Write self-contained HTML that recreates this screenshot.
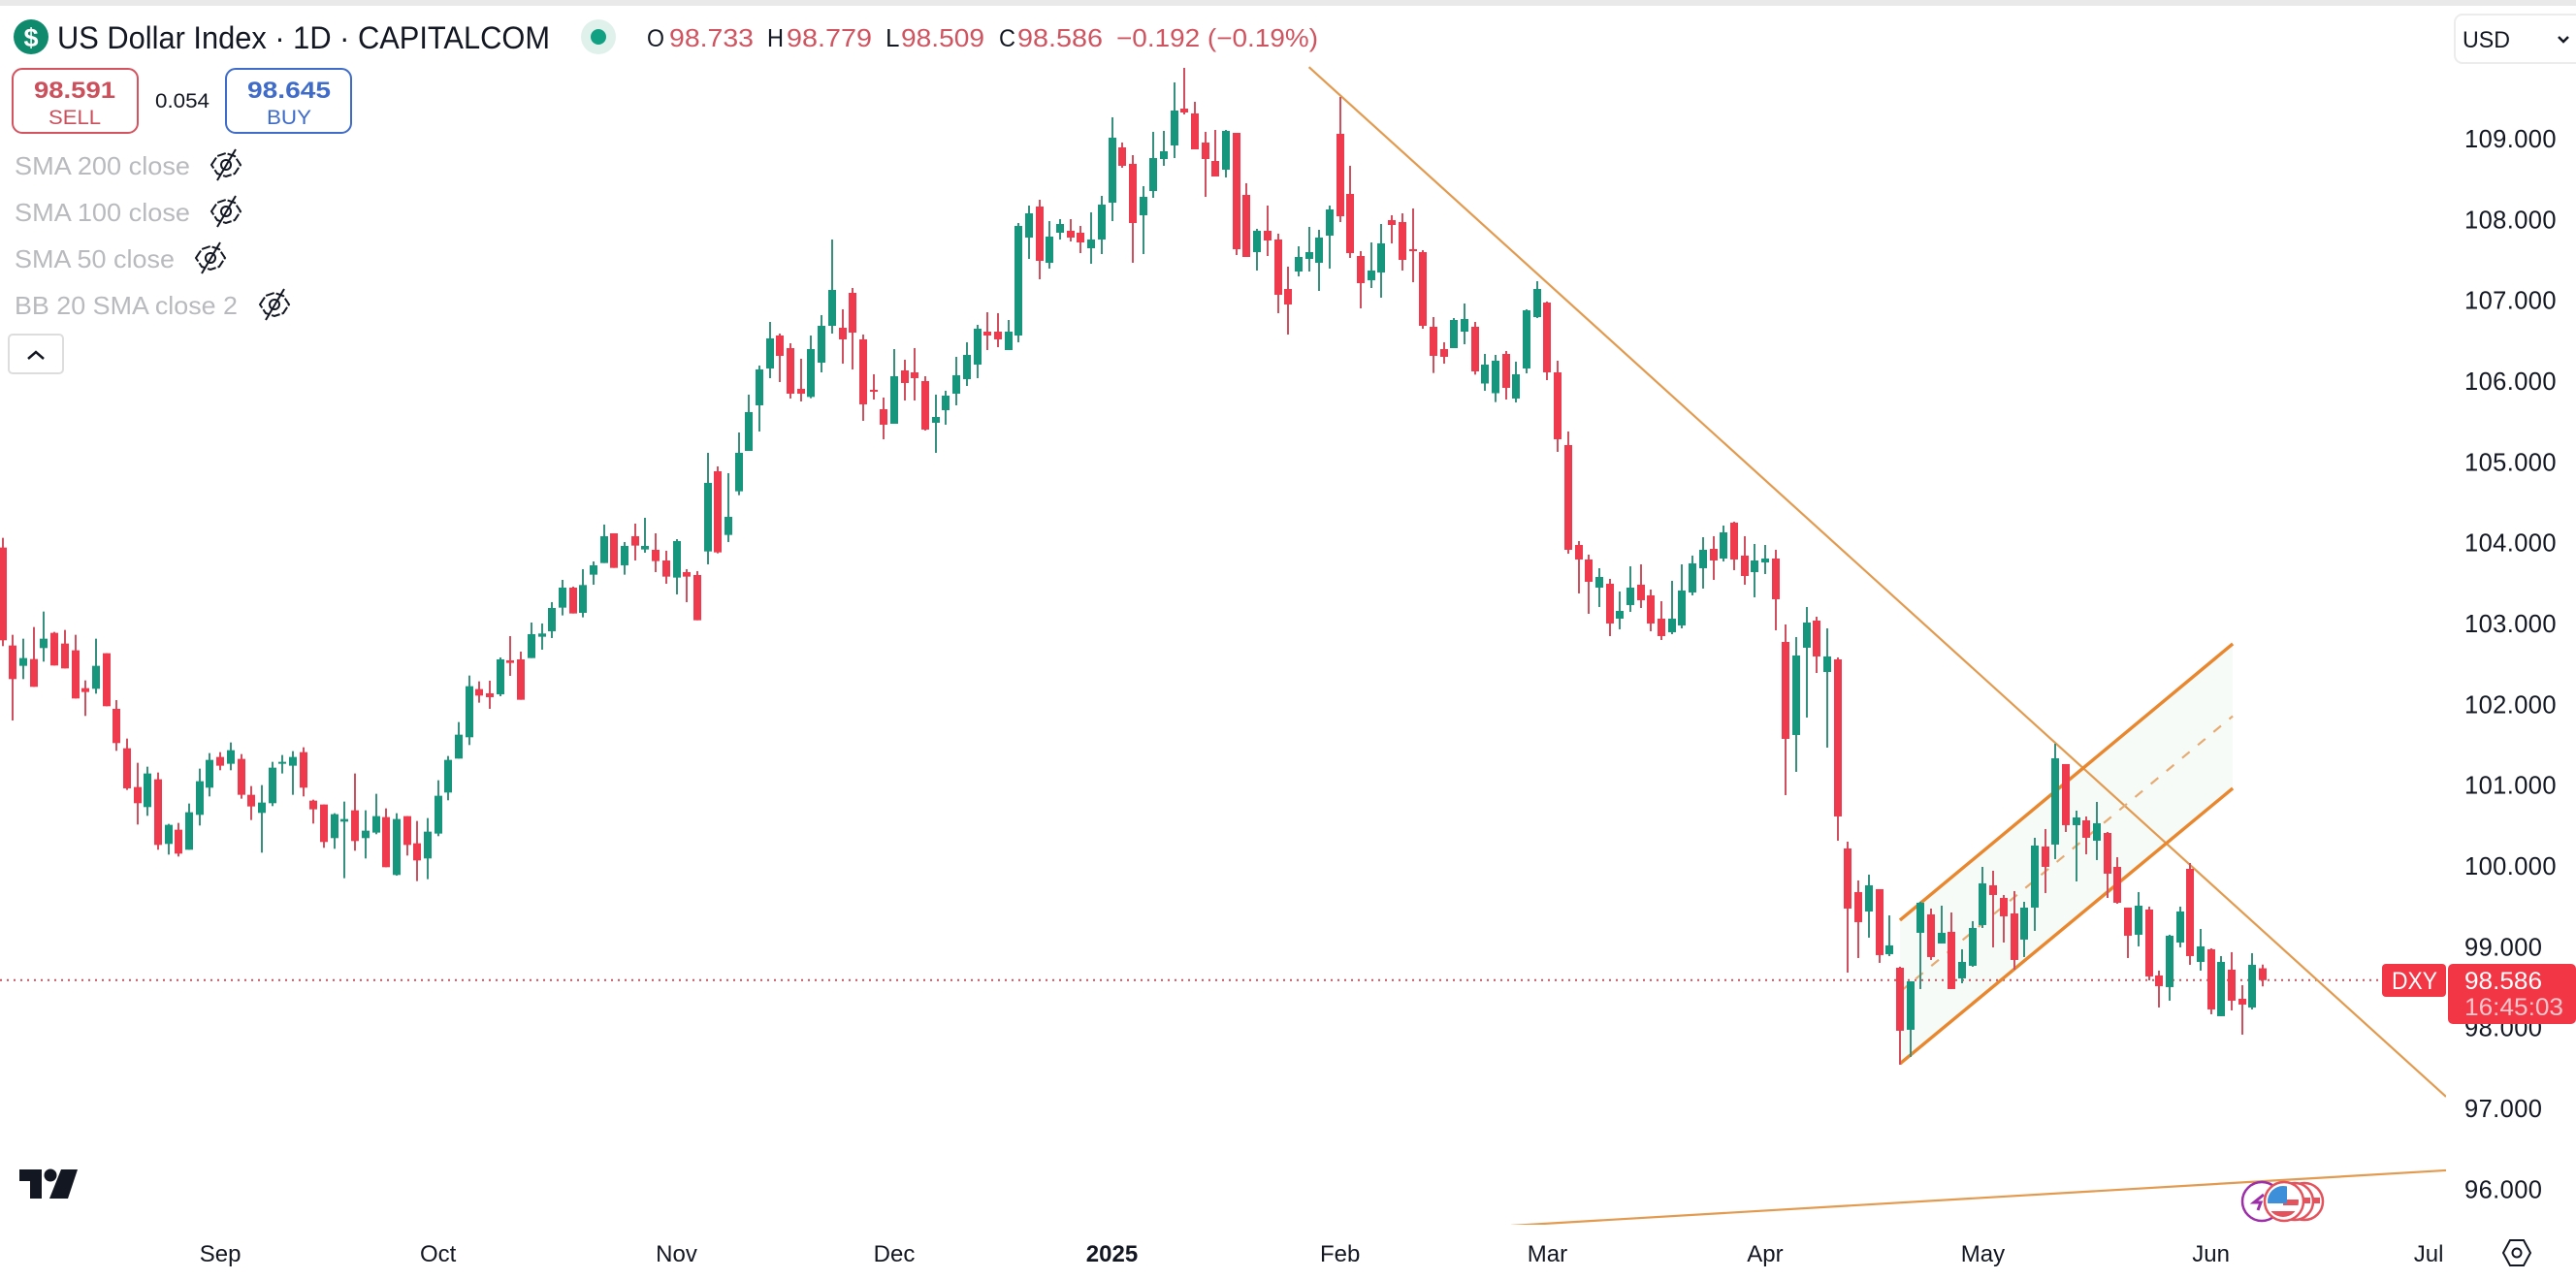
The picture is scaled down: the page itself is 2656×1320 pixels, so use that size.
<!DOCTYPE html>
<html lang="en">
<head>
<meta charset="utf-8">
<title>US Dollar Index 1D chart</title>
<style>
html,body{margin:0;padding:0;background:#fff;width:2656px;height:1320px;overflow:hidden}
svg{display:block;font-family:"Liberation Sans",sans-serif}
</style>
</head>
<body>
<svg id="chart" xmlns="http://www.w3.org/2000/svg" width="2656" height="1320" viewBox="0 0 2656 1320">
  <defs>
    <clipPath id="pane-clip"><rect x="0" y="0" width="2522" height="1263"/></clipPath>
    <clipPath id="flag-clip"><circle cx="2354" cy="1239" r="16"/></clipPath>
    <g id="eye-off">
      <path d="M-15 0 L-9 -9 L0 -12 L9 -9 L15 0 L9 9 L0 12 L-9 9 Z" fill="none" stroke="#131722" stroke-width="2" stroke-dasharray="9 2"/>
      <circle cx="0" cy="0" r="5" fill="none" stroke="#131722" stroke-width="2"/>
      <path d="M-9 16 L10 -16" stroke="#131722" stroke-width="2"/>
    </g>
  </defs>
  <rect x="0" y="0" width="2656" height="1320" fill="#ffffff"/>
  <rect x="0" y="0" width="2656" height="6" fill="#e9e9e9"/>

  <g id="drawings" clip-path="url(#pane-clip)"></g>
  <g id="candles" clip-path="url(#pane-clip)"></g>
  <g id="yaxis"></g>
  <g id="xaxis"></g>

  <g>
    <circle cx="32" cy="38" r="18" fill="#0f8a6d"/>
    <text x="32" y="48" font-size="27" font-weight="700" fill="#fff" text-anchor="middle">$</text>
    <text x="59" y="50" font-size="32" fill="#131722" textLength="508" lengthAdjust="spacingAndGlyphs">US Dollar Index · 1D · CAPITALCOM</text>
    <circle cx="617" cy="38" r="18" fill="#e0f1ec"/>
    <circle cx="617" cy="38" r="8" fill="#12a083"/>
    <text x="667" y="48" font-size="25" fill="#131722" textLength="18" lengthAdjust="spacingAndGlyphs">O</text>
    <text x="690" y="48" font-size="26" fill="#cf5460" textLength="87" lengthAdjust="spacingAndGlyphs">98.733</text>
    <text x="791" y="48" font-size="26" fill="#131722" textLength="17" lengthAdjust="spacingAndGlyphs">H</text>
    <text x="811" y="48" font-size="26" fill="#cf5460" textLength="88" lengthAdjust="spacingAndGlyphs">98.779</text>
    <text x="913" y="48" font-size="26" fill="#131722">L</text>
    <text x="929" y="48" font-size="26" fill="#cf5460" textLength="86" lengthAdjust="spacingAndGlyphs">98.509</text>
    <text x="1030" y="48" font-size="25" fill="#131722" textLength="17" lengthAdjust="spacingAndGlyphs">C</text>
    <text x="1049" y="48" font-size="26" fill="#cf5460" textLength="88" lengthAdjust="spacingAndGlyphs">98.586</text>
    <text x="1151" y="48" font-size="26" fill="#cf5460" textLength="208" lengthAdjust="spacingAndGlyphs">−0.192 (−0.19%)</text>
  </g>

  <g>
    <rect x="13" y="71" width="129" height="66" rx="10" fill="#fff" stroke="#d4535f" stroke-width="2"/>
    <text x="35" y="101" font-size="24" font-weight="700" fill="#cc4f5c" textLength="84" lengthAdjust="spacingAndGlyphs">98.591</text>
    <text x="50" y="128" font-size="21" fill="#cc4f5c" textLength="54" lengthAdjust="spacingAndGlyphs">SELL</text>
  </g>
  <text x="160" y="111" font-size="21" fill="#131722" textLength="56" lengthAdjust="spacingAndGlyphs">0.054</text>
  <g>
    <rect x="233" y="71" width="129" height="66" rx="10" fill="#fff" stroke="#3f6bc9" stroke-width="2"/>
    <text x="255" y="101" font-size="24" font-weight="700" fill="#3f6bc9" textLength="86" lengthAdjust="spacingAndGlyphs">98.645</text>
    <text x="275" y="128" font-size="21" fill="#3f6bc9" textLength="46" lengthAdjust="spacingAndGlyphs">BUY</text>
  </g>

  <text x="15" y="180" font-size="26" fill="#b9babd" textLength="181" lengthAdjust="spacingAndGlyphs">SMA 200 close</text>
  <use href="#eye-off" x="233" y="170"/>
  <text x="15" y="228" font-size="26" fill="#b9babd" textLength="181" lengthAdjust="spacingAndGlyphs">SMA 100 close</text>
  <use href="#eye-off" x="233" y="218"/>
  <text x="15" y="276" font-size="26" fill="#b9babd" textLength="165" lengthAdjust="spacingAndGlyphs">SMA 50 close</text>
  <use href="#eye-off" x="217" y="266"/>
  <text x="15" y="324" font-size="26" fill="#b9babd" textLength="230" lengthAdjust="spacingAndGlyphs">BB 20 SMA close 2</text>
  <use href="#eye-off" x="283" y="314"/>

  <g>
    <rect x="9" y="345" width="56" height="40" rx="4" fill="#fff" stroke="#dddddd" stroke-width="2"/>
    <path d="M29 370 L37 363 L45 370" fill="none" stroke="#131722" stroke-width="2.5"/>
  </g>

  <g>
    <rect x="2531" y="15" width="135" height="50" rx="8" fill="#fff" stroke="#ececec" stroke-width="2"/>
    <text x="2539" y="49" font-size="24" fill="#131722" textLength="49" lengthAdjust="spacingAndGlyphs">USD</text>
    <path d="M2638 38 L2643 43 L2648 38" fill="none" stroke="#131722" stroke-width="2.5"/>
  </g>

  <g fill="#131722">
    <polygon points="20,1206 43,1206 43,1236 31,1236 31,1218 20,1218"/>
    <circle cx="52" cy="1212" r="6.5"/>
    <polygon points="63,1206 80,1206 70,1236 51,1236"/>
  </g>

  <g>
    <rect x="2456" y="994" width="66" height="34" rx="4" fill="#f23645"/>
    <text x="2466" y="1020" font-size="25" fill="#fff" textLength="47" lengthAdjust="spacingAndGlyphs">DXY</text>
    <rect x="2524" y="994" width="132" height="62" rx="5" fill="#f23645"/>
    <text x="2541" y="1020" font-size="25" fill="#fff" textLength="80" lengthAdjust="spacingAndGlyphs">98.586</text>
    <text x="2541" y="1047" font-size="25" fill="#fbc6cb" textLength="102" lengthAdjust="spacingAndGlyphs">16:45:03</text>
  </g>

  <g>
    <circle cx="2376" cy="1239" r="19" fill="#fff" stroke="#e4525c" stroke-width="2.5"/>
    <rect x="2378" y="1235" width="14" height="6" fill="#e4525c"/>
    <circle cx="2366" cy="1239" r="19" fill="#fff" stroke="#e4525c" stroke-width="2.5"/>
    <rect x="2368" y="1235" width="14" height="6" fill="#e4525c"/>
    <circle cx="2332" cy="1239" r="20" fill="#fff" stroke="#9c2fa8" stroke-width="2.5"/>
    <path d="M2334 1232 L2324 1240 L2331 1240 L2328 1248" fill="none" stroke="#9c2fa8" stroke-width="3"/>
    <circle cx="2355" cy="1239" r="20" fill="#fff" stroke="#e4525c" stroke-width="2.5"/>
    <g clip-path="url(#flag-clip)">
      <rect x="2338" y="1223" width="34" height="32" fill="#fff"/>
      <rect x="2354" y="1237" width="18" height="6" fill="#e4525c"/>
      <rect x="2338" y="1249" width="34" height="6" fill="#e4525c"/>
      <rect x="2338" y="1223" width="20" height="18" fill="#3d8fd9"/>
    </g>
  </g>

  <g>
    <polygon points="2581,1292 2588,1279 2602,1279 2609,1292 2602,1305 2588,1305" fill="none" stroke="#131722" stroke-width="2"/>
    <circle cx="2595" cy="1292" r="4.5" fill="none" stroke="#131722" stroke-width="2"/>
  </g>
</svg>

<script>
var opens=[103.94,102.728,102.476,102.56,102.696,102.884,102.752,102.668,102.2,102.192,102.632,101.944,101.456,100.976,100.728,101.072,100.272,100.448,100.2,100.632,100.968,101.348,101.264,101.324,100.88,100.656,100.776,101.264,101.24,101.408,100.808,100.76,100.344,100.548,100.688,100.344,100.412,100.604,99.888,100.616,100.28,100.092,100.4,100.908,101.328,101.592,102.188,102.136,102.124,102.544,102.556,102.572,102.836,102.904,103.196,103.444,103.132,103.604,103.748,104.116,103.72,104.08,103.916,103.912,103.78,103.568,103.636,103.6,103.892,104.884,104.096,104.636,105.136,105.7,106.156,106.564,106.408,105.904,105.804,106.228,106.684,106.66,107.092,106.516,105.892,105.652,105.472,106.132,106.108,106,105.484,105.64,105.844,106.024,106.204,106.612,106.612,106.384,106.564,107.776,108.16,107.464,107.836,107.86,107.836,107.644,107.752,108.208,108.892,108.688,108.052,108.352,108.748,108.916,109.372,109.312,108.952,108.724,108.616,109.072,108.304,107.596,107.86,107.752,107.14,107.356,107.512,107.464,107.8,109.06,108.316,107.548,107.248,107.344,107.992,107.968,107.632,107.596,106.672,106.396,106.408,106.612,106.672,105.97,105.85,106.336,105.784,106.156,106.792,106.972,106.108,105.208,103.972,103.792,103.444,103.492,103.06,103.228,103.48,103.348,103.06,102.892,102.976,103.384,103.684,103.924,103.804,104.248,103.84,103.636,103.756,103.804,102.772,101.62,102.7,103.036,102.4,102.556,100.216,99.676,99.436,99.712,98.908,98.74,97.972,99.172,99.4,99.04,99.184,98.608,98.764,99.268,99.76,99.604,99.412,99.088,99.484,100.24,100.264,101.26,100.504,100.564,100.312,100.408,99.988,99.484,99.148,99.46,98.644,98.5,99.052,99.964,98.812,98.968,98.14,98.716,98.356,98.248,98.733];
var highs=[104.06,102.86,102.812,102.956,103.148,102.896,102.92,102.86,102.296,102.812,102.632,102.052,101.576,101.276,101.228,101.156,100.52,100.532,100.772,101.204,101.396,101.408,101.528,101.384,100.988,101,101.288,101.372,101.42,101.468,100.82,100.76,100.652,100.796,101.144,100.688,100.892,100.712,100.652,100.616,100.556,100.592,101.06,101.36,101.78,102.356,102.284,102.292,102.58,102.844,102.652,103.012,103,103.264,103.54,103.456,103.672,103.768,104.224,104.116,104.008,104.236,104.308,104.116,103.9,104.044,103.672,103.648,105.112,104.944,104.86,105.364,105.832,106.192,106.732,106.588,106.468,106.276,106.564,106.816,107.752,106.888,107.152,106.576,106.084,105.796,106.396,106.264,106.408,106.06,105.832,105.88,106.3,106.48,106.696,106.852,106.84,106.756,107.956,108.172,108.244,107.98,108.004,108.004,107.92,108.088,108.292,109.264,108.952,108.796,108.412,109.084,109.096,109.696,109.876,109.456,109.084,109.108,109.108,109.072,108.448,107.884,108.172,107.824,107.416,107.668,107.908,107.872,108.172,109.516,108.664,107.608,107.716,107.944,108.052,108.076,108.136,107.62,106.792,106.48,106.78,106.96,106.732,106.336,106.324,106.372,106.24,106.888,107.236,106.984,106.252,105.376,104.02,103.852,103.684,103.552,103.396,103.708,103.732,103.42,103.276,103.528,103.732,103.84,104.068,104.08,104.212,104.26,104.08,103.984,103.972,103.912,102.988,102.832,103.204,103.084,102.94,102.58,100.3,99.82,99.892,99.712,99.388,98.752,98.572,99.556,99.472,99.508,99.424,98.968,99.316,99.988,99.94,99.64,99.688,99.556,100.348,100.456,101.512,101.26,100.684,100.612,100.792,100.42,100.108,99.484,99.676,99.496,98.704,99.148,99.496,100.036,99.22,98.98,98.884,98.932,98.524,98.92,98.779];
var lows=[102.72,101.8,102.312,102.216,102.528,102.48,102.444,102.072,101.856,102.132,101.976,101.424,100.94,100.512,100.62,100.2,100.14,100.116,100.2,100.5,100.86,101.184,101.184,100.832,100.568,100.164,100.74,101.144,100.88,100.86,100.524,100.224,100.212,99.848,100.188,100.092,100.392,99.984,99.88,100.128,99.812,99.836,100.368,100.812,101.328,101.496,102.02,101.944,102.1,102.352,102.056,102.572,102.676,102.82,103.1,103.124,103.076,103.48,103.748,103.688,103.604,103.78,103.876,103.636,103.492,103.36,103.264,103.04,103.732,103.868,104.008,104.588,105.136,105.376,106.036,105.988,105.784,105.748,105.788,106.108,106.588,106.216,106.144,105.508,105.772,105.28,105.472,105.76,105.76,105.388,105.112,105.46,105.7,105.94,106.036,106.384,106.42,106.384,106.48,107.512,107.26,107.392,107.752,107.728,107.584,107.452,107.572,107.98,108.64,107.464,107.572,108.268,108.664,108.76,109.3,108.868,108.28,108.532,108.52,107.56,107.536,107.368,107.548,106.84,106.576,107.296,107.356,107.116,107.392,107.968,107.524,106.9,107.152,107.032,107.704,107.368,107.224,106.648,106.1,106.216,106.408,106.456,106.08,105.88,105.74,105.772,105.736,106.096,106.78,106.012,105.124,103.864,103.372,103.12,103.204,102.844,102.928,103.144,103.192,102.904,102.796,102.868,102.94,103.348,103.432,103.54,103.768,103.66,103.48,103.324,103.612,102.916,100.876,101.164,101.836,102.388,101.464,100.312,98.68,98.86,99.112,98.8,98.884,97.54,97.636,98.476,98.836,99.04,98.476,98.548,98.752,99.232,98.992,99.052,98.716,98.872,99.196,99.664,100.084,100.42,99.808,100.144,100.072,99.604,99.532,98.86,99.004,98.584,98.248,98.332,98.992,98.776,98.704,98.164,98.14,98.212,97.912,98.224,98.509];
var closes=[102.792,102.312,102.572,102.216,102.812,102.48,102.444,102.072,102.152,102.476,101.976,101.52,100.96,100.776,101.144,100.26,100.508,100.152,100.664,101.048,101.312,101.24,101.432,100.88,100.736,100.784,101.216,101.288,101.348,100.968,100.7,100.296,100.64,100.58,100.308,100.436,100.616,99.984,100.58,100.26,100.068,100.424,100.868,101.312,101.624,102.224,102.108,102.088,102.556,102.512,102.056,102.868,102.876,103.192,103.444,103.124,103.476,103.72,104.08,103.688,103.96,103.964,103.96,103.772,103.58,104.02,103.58,103.04,104.74,103.88,104.32,105.112,105.616,106.144,106.528,106.312,105.844,105.844,106.396,106.684,107.128,106.516,106.6,105.712,105.872,105.46,106.06,105.976,106.036,105.4,105.556,105.82,106.072,106.324,106.648,106.564,106.516,106.612,107.92,108.076,107.488,107.788,107.944,107.776,107.716,107.752,108.184,109.012,108.664,107.956,108.28,108.76,108.844,109.348,109.324,108.868,108.748,108.532,109.096,107.632,107.536,107.86,107.74,107.068,106.948,107.536,107.596,107.776,108.124,108.04,107.584,107.212,107.368,107.704,107.932,107.5,107.608,106.684,106.312,106.3,106.756,106.768,106.12,106.204,106.252,105.916,106.084,106.876,107.14,106.108,105.28,103.912,103.792,103.516,103.576,103,103.156,103.444,103.288,103,102.844,103.06,103.408,103.744,103.912,103.78,104.128,103.792,103.588,103.78,103.804,103.3,101.572,102.604,103.012,102.592,102.592,100.612,99.472,99.304,99.76,98.896,99.016,97.96,98.572,99.544,98.872,99.172,98.476,98.812,99.232,99.784,99.64,99.376,98.836,99.484,100.252,99.988,101.332,100.504,100.6,100.348,100.528,99.904,99.544,99.136,99.508,98.632,98.512,99.136,99.436,98.884,99.004,98.224,98.812,98.332,98.284,98.776,98.586];

var priceTicks=[109,108,107,106,105,104,103,102,101,100,99,98,97,96];
var timeLabels=["Sep","Oct","Nov","Dec","2025","Feb","Mar","Apr","May","Jun","Jul"];
var timeLabelBars=[21,42,65,86,107,129,149,170,191,213,234];
var boldTimeLabels=["2025"];
var lastPrice=98.586;

var resistanceBars=[126,235.67];
var resistancePrices=[109.886,97.144];
var supportBars=[145.5,235.67];
var supportPrices=[95.548,96.232];
var channelBars=[183,215.1];
var channelUpperPrices=[99.328,102.748];
var channelMidPrices=[98.44,101.854];
var channelLowerPrices=[97.552,100.96];

var NS="http://www.w3.org/2000/svg";
function xScale(bar){return 2.67+10.69*bar;}
function yScale(price){return 143+(109-price)*83.33;}

var drawings=document.getElementById("drawings");
var candlesLayer=document.getElementById("candles");
var yaxis=document.getElementById("yaxis");
var xaxis=document.getElementById("xaxis");

var fillPoly=document.createElementNS(NS,"polygon");


fillPoly.setAttribute("points",
  xScale(channelBars[0])+","+yScale(channelUpperPrices[0])+" "+
  xScale(channelBars[1])+","+yScale(channelUpperPrices[1])+" "+
  xScale(channelBars[1])+","+yScale(channelLowerPrices[1])+" "+
  xScale(channelBars[0])+","+yScale(channelLowerPrices[0]));
fillPoly.setAttribute("fill","#f7fbf8");
drawings.appendChild(fillPoly);

var dotted=document.createElementNS(NS,"line");


dotted.setAttribute("x1",0);
dotted.setAttribute("x2",2456);
dotted.setAttribute("y1",yScale(lastPrice));
dotted.setAttribute("y2",yScale(lastPrice));
dotted.setAttribute("stroke","#c8505c");
dotted.setAttribute("stroke-width",2);
dotted.setAttribute("stroke-dasharray","2 5");
drawings.appendChild(dotted);

var resistanceLine=document.createElementNS(NS,"line");


resistanceLine.setAttribute("x1",xScale(resistanceBars[0]));
resistanceLine.setAttribute("y1",yScale(resistancePrices[0]));
resistanceLine.setAttribute("x2",xScale(resistanceBars[1]));
resistanceLine.setAttribute("y2",yScale(resistancePrices[1]));
resistanceLine.setAttribute("stroke","#e29a4e");
resistanceLine.setAttribute("stroke-width",2.2);
drawings.appendChild(resistanceLine);

var supportLine=document.createElementNS(NS,"line");


supportLine.setAttribute("x1",xScale(supportBars[0]));
supportLine.setAttribute("y1",yScale(supportPrices[0]));
supportLine.setAttribute("x2",xScale(supportBars[1]));
supportLine.setAttribute("y2",yScale(supportPrices[1]));
supportLine.setAttribute("stroke","#e29a4e");
supportLine.setAttribute("stroke-width",2.2);
drawings.appendChild(supportLine);

var upperLine=document.createElementNS(NS,"line");


upperLine.setAttribute("x1",xScale(channelBars[0]));
upperLine.setAttribute("y1",yScale(channelUpperPrices[0]));
upperLine.setAttribute("x2",xScale(channelBars[1]));
upperLine.setAttribute("y2",yScale(channelUpperPrices[1]));
upperLine.setAttribute("stroke","#e8872e");
upperLine.setAttribute("stroke-width",3.4);
drawings.appendChild(upperLine);

var midLine=document.createElementNS(NS,"line");


midLine.setAttribute("x1",xScale(channelBars[0]));
midLine.setAttribute("y1",yScale(channelMidPrices[0]));
midLine.setAttribute("x2",xScale(channelBars[1]));
midLine.setAttribute("y2",yScale(channelMidPrices[1]));
midLine.setAttribute("stroke","#e5ab72");
midLine.setAttribute("stroke-width",2.2);
midLine.setAttribute("stroke-dasharray","10 11");
drawings.appendChild(midLine);

var lowerLine=document.createElementNS(NS,"line");


lowerLine.setAttribute("x1",xScale(channelBars[0]));
lowerLine.setAttribute("y1",yScale(channelLowerPrices[0]));
lowerLine.setAttribute("x2",xScale(channelBars[1]));
lowerLine.setAttribute("y2",yScale(channelLowerPrices[1]));
lowerLine.setAttribute("stroke","#e8872e");
lowerLine.setAttribute("stroke-width",3.4);
drawings.appendChild(lowerLine);

for(var i=0;i<opens.length;i++){
  var isUp=closes[i]>=opens[i];
  var candleX=Math.round(xScale(i));
  var wick=document.createElementNS(NS,"rect");
  
  
  wick.setAttribute("x",candleX-1);
  wick.setAttribute("width",2);
  wick.setAttribute("y",yScale(highs[i]));
  wick.setAttribute("height",Math.max(1,yScale(lows[i])-yScale(highs[i])));
  wick.setAttribute("fill",isUp?"#37907e":"#cf4f5e");
  candlesLayer.appendChild(wick);
  var candleBody=document.createElementNS(NS,"rect");
  
  
  var bodyTopY=yScale(Math.max(opens[i],closes[i]));
  var bodyBottomY=yScale(Math.min(opens[i],closes[i]));
  candleBody.setAttribute("x",candleX-4);
  candleBody.setAttribute("width",8);
  candleBody.setAttribute("y",bodyTopY);
  candleBody.setAttribute("height",Math.max(2,bodyBottomY-bodyTopY));
  candleBody.setAttribute("fill",isUp?"#16967d":"#ef3a4d");
  candlesLayer.appendChild(candleBody);
}

priceTicks.forEach(function(p){
  var t=document.createElementNS(NS,"text");
  
  
  t.setAttribute("x",2541);
  t.setAttribute("y",yScale(p)+9);
  t.setAttribute("font-size",25.5);
  t.setAttribute("fill","#131722");
  t.setAttribute("letter-spacing","0.4");
  t.textContent=p.toFixed(3);
  yaxis.appendChild(t);
});

timeLabels.forEach(function(label,k){
  var t=document.createElementNS(NS,"text");
  
  
  t.setAttribute("x",xScale(timeLabelBars[k]));
  t.setAttribute("y",1301);
  t.setAttribute("font-size",24);
  t.setAttribute("text-anchor","middle");
  t.setAttribute("fill","#131722");
  if(boldTimeLabels.indexOf(label)>=0){t.setAttribute("font-weight","700");}
  t.textContent=label;
  xaxis.appendChild(t);
});
</script>
</body>
</html>
